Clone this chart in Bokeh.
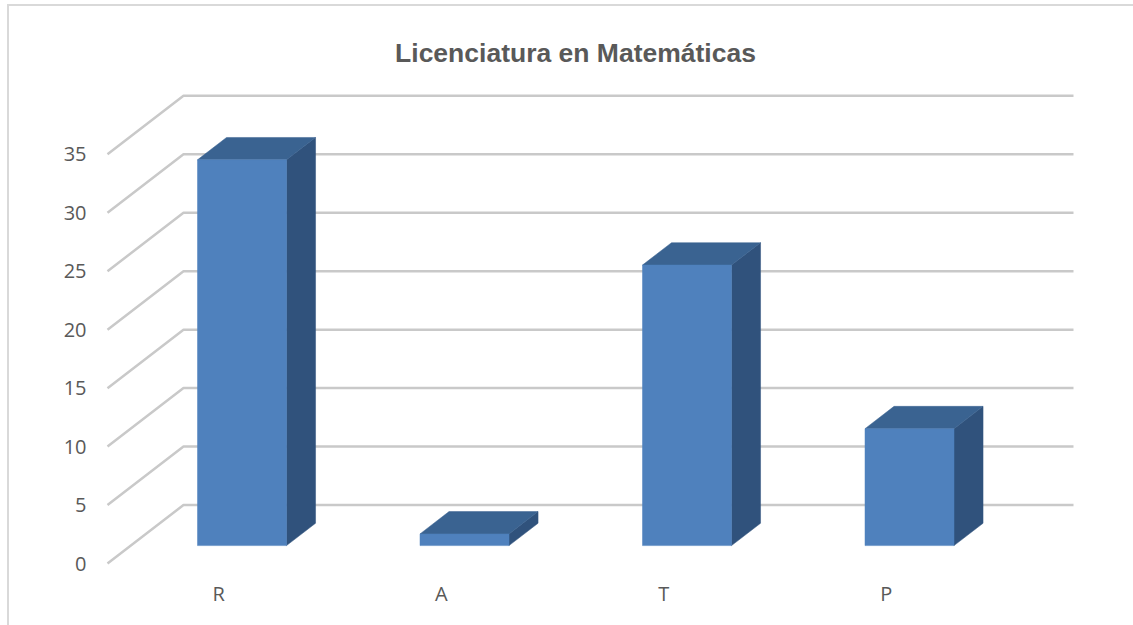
from bokeh.plotting import figure
from bokeh.models import FixedTicker, Label, Range1d
from bokeh.embed import file_html
from bokeh.resources import INLINE

# ---------------- data ----------------
categories = ["R", "A", "T", "P"]
values = [33, 1, 24, 10]
y_ticks = [0, 5, 10, 15, 20, 25, 30, 35]
title_text = "Licenciatura en Matemáticas"

# ---------------- geometry ----------------
W, H = 1133, 625
LEFT, BOTTOM = 100, 50
PX_X0 = 107.0        # pixel x of the front-left floor corner
PX_PER_CAT = 222.5   # pixels per category slot
PX_Y0 = 563.0        # pixel y of value 0 on the front plane
PX_PER_UNIT = 11.69  # pixels per value unit

frame_w = W - LEFT
frame_h = H - BOTTOM
x_start = (LEFT - PX_X0) / PX_PER_CAT
x_end = x_start + frame_w / PX_PER_CAT
y_end = PX_Y0 / PX_PER_UNIT
y_start = y_end - frame_h / PX_PER_UNIT


def dx(px):
    return (px - PX_X0) / PX_PER_CAT


def dy(py):
    return (PX_Y0 - py) / PX_PER_UNIT


SX = 76.0 / PX_PER_CAT      # full depth shift in x (data units)
SY = 58.5 / PX_PER_UNIT     # full depth shift in y (data units)
D0, D1 = 0.306, 0.688       # bar depth (fraction of floor depth)
HW = 0.2                    # half bar width (category units)

p = figure(width=W, height=H, x_range=Range1d(x_start, x_end),
           y_range=Range1d(y_start, y_end), min_border_left=LEFT,
           min_border_bottom=BOTTOM, min_border_top=0, min_border_right=0,
           toolbar_location=None, output_backend="svg", title=None)
p.background_fill_color = None
p.border_fill_color = None
p.outline_line_color = None
p.xgrid.visible = False
p.ygrid.visible = False
# chart-area border (left and top edges only visible), drawn as CSS background
p.styles = {
    "background-color": "white",
    "background-image": "linear-gradient(#D9D9D9, #D9D9D9), linear-gradient(#D9D9D9, #D9D9D9)",
    "background-size": "2px 100%, 100% 2px",
    "background-position": "7px 4px, 7px 4px",
    "background-repeat": "no-repeat",
}

# ---------------- walls / gridlines ----------------
n = len(categories)
g_xs, g_ys = [], []
for v in y_ticks:
    g_xs.append([0, SX, n + SX])
    g_ys.append([v, v + SY, v + SY])
p.multi_line(g_xs, g_ys, line_color="#C9C9C9", line_width=2.5)

# ---------------- 3D bars ----------------
front_xs, front_ys, top_xs, top_ys, side_xs, side_ys = [], [], [], [], [], []
for i, v in enumerate(values):
    xl = i + 0.5 - HW
    xr = i + 0.5 + HW
    f0x, f0y = SX * D0, SY * D0
    f1x, f1y = SX * D1, SY * D1
    front_xs.append([xl + f0x, xr + f0x, xr + f0x, xl + f0x])
    front_ys.append([f0y, f0y, v + f0y, v + f0y])
    top_xs.append([xl + f0x, xr + f0x, xr + f1x, xl + f1x])
    top_ys.append([v + f0y, v + f0y, v + f1y, v + f1y])
    side_xs.append([xr + f0x, xr + f1x, xr + f1x, xr + f0x])
    side_ys.append([f0y, f1y, v + f1y, v + f0y])

p.patches(side_xs, side_ys, fill_color="#30527C", line_color="#30527C", line_width=0.5)
p.patches(top_xs, top_ys, fill_color="#3A6391", line_color="#3A6391", line_width=0.5)
p.patches(front_xs, front_ys, fill_color="#4F81BD", line_color="#4F81BD", line_width=0.5)

# ---------------- axes ----------------
p.yaxis.ticker = FixedTicker(ticks=y_ticks)
p.yaxis.axis_line_color = None
p.yaxis.major_tick_line_color = None
p.yaxis.minor_tick_line_color = None
p.yaxis.major_tick_in = 0
p.yaxis.major_tick_out = 0
p.yaxis.major_label_standoff = 14
p.yaxis.major_label_text_font = "Open Sans"
p.yaxis.major_label_text_font_size = "20px"
p.yaxis.major_label_text_color = "#595959"

cat_ticks = [i + 0.5 for i in range(n)]
p.xaxis.ticker = FixedTicker(ticks=cat_ticks)
p.xaxis.major_label_overrides = {t: c for t, c in zip(cat_ticks, categories)}
p.xaxis.axis_line_color = None
p.xaxis.major_tick_line_color = None
p.xaxis.minor_tick_line_color = None
p.xaxis.major_tick_in = 0
p.xaxis.major_tick_out = 0
p.xaxis.major_label_standoff = 4
p.xaxis.major_label_text_font = "Open Sans"
p.xaxis.major_label_text_font_size = "20px"
p.xaxis.major_label_text_color = "#595959"

# ---------------- title ----------------
p.add_layout(Label(x=dx(575), y=dy(52), text=title_text, text_align="center",
                   text_baseline="alphabetic", text_font="Liberation Sans",
                   text_font_style="bold", text_font_size="26.5px",
                   text_color="#595959"))

open("out.html", "w").write(file_html(p, INLINE))
